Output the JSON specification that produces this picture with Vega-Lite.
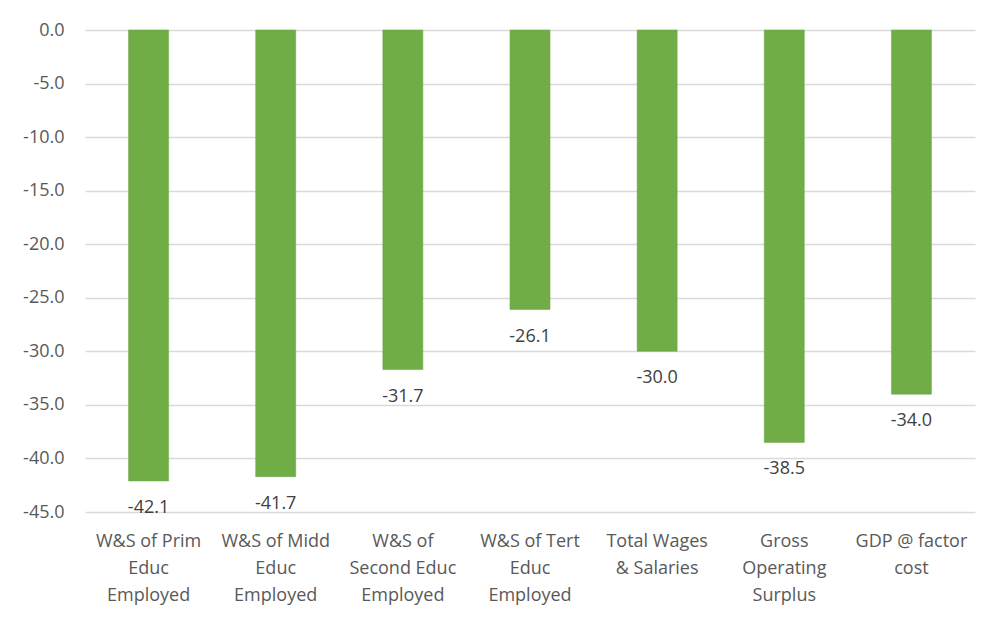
{
  "$schema": "https://vega.github.io/schema/vega-lite/v6.json",
  "width": 890,
  "height": 482,
  "autosize": {"type": "none"},
  "padding": {"left": 85, "top": 30, "right": 25, "bottom": 112},
  "background": "white",
  "config": {
    "view": {"stroke": null},
    "font": "Open Sans",
    "locale": {
      "number": {"decimal": ".", "thousands": ",", "grouping": [3], "currency": ["$", ""], "minus": "-"}
    }
  },
  "data": {
    "values": [
      {"category": "W&S of Prim|Educ|Employed", "value": -42.1},
      {"category": "W&S of Midd|Educ|Employed", "value": -41.7},
      {"category": "W&S of|Second Educ|Employed", "value": -31.7},
      {"category": "W&S of Tert|Educ|Employed", "value": -26.1},
      {"category": "Total Wages|& Salaries", "value": -30.0},
      {"category": "Gross|Operating|Surplus", "value": -38.5},
      {"category": "GDP @ factor|cost", "value": -34.0}
    ]
  },
  "encoding": {
    "x": {
      "field": "category",
      "type": "nominal",
      "sort": null,
      "scale": {"paddingInner": 0.685, "paddingOuter": 0.3425},
      "axis": {
        "title": null,
        "orient": "bottom",
        "labelAngle": 0,
        "labelExpr": "split(datum.label, '|')",
        "labelFontSize": 18,
        "labelColor": "#595959",
        "labelLineHeight": 27,
        "labelPadding": 29,
        "labelBaseline": "middle",
        "ticks": false,
        "domain": false,
        "labelLimit": 200
      }
    },
    "y": {
      "field": "value",
      "type": "quantitative",
      "scale": {"domain": [-45, 0], "nice": false, "zero": false},
      "axis": {
        "title": null,
        "values": [0, -5, -10, -15, -20, -25, -30, -35, -40, -45],
        "format": ".1f",
        "labelFontSize": 18,
        "labelColor": "#595959",
        "labelPadding": 21,
        "ticks": false,
        "domain": false,
        "gridColor": "#D9D9D9",
        "gridWidth": 1.3
      }
    }
  },
  "layer": [
    {
      "mark": {"type": "bar", "color": "#70AD47", "stroke": "#6AA544", "strokeWidth": 0.5},
      "encoding": {"y2": {"datum": 0}}
    },
    {
      "mark": {"type": "text", "baseline": "middle", "dy": 27, "fontSize": 18, "color": "#404040"},
      "encoding": {
        "text": {"field": "value", "type": "quantitative", "format": ".1f"}
      }
    }
  ]
}
